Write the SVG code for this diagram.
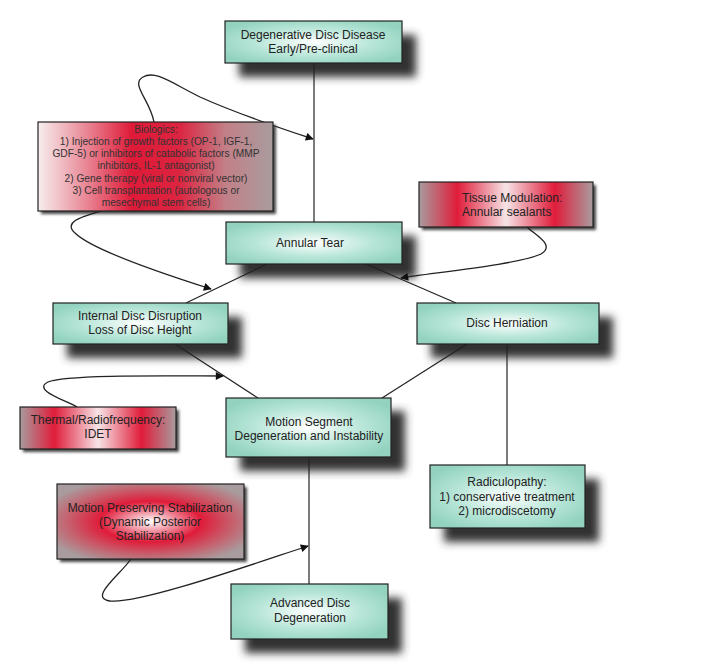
<svg xmlns="http://www.w3.org/2000/svg" width="725" height="667" viewBox="0 0 725 667">
<defs>
<style>
text{font-family:"Liberation Sans",Arial,sans-serif;fill:#222;text-anchor:middle}
.t{font-size:12px}
.s{font-size:10.2px;fill:#333}
.box{stroke:#222;stroke-width:1.2}
.teal{fill:url(#gTeal)}
.sh{fill:#333;filter:url(#blur)}
.shs{fill:#444;filter:url(#blurS)}
.ln{fill:none;stroke:#222;stroke-width:1.2}
.ar{fill:none;stroke:#222;stroke-width:1.3;marker-end:url(#arr)}
</style>
<radialGradient id="gTeal" cx="0.5" cy="0.5" r="0.6">
<stop offset="0" stop-color="#ffffff"/>
<stop offset="0.55" stop-color="#b8e6d8"/>
<stop offset="1" stop-color="#92d2bf"/>
</radialGradient>
<linearGradient id="gBio" x1="0" y1="0" x2="1" y2="0">
<stop offset="0" stop-color="#f7eeee"/>
<stop offset="0.2" stop-color="#e98a98"/>
<stop offset="0.4" stop-color="#df1a38"/>
<stop offset="0.6" stop-color="#dc2440"/>
<stop offset="0.8" stop-color="#c28088"/>
<stop offset="1" stop-color="#a89c9e"/>
</linearGradient>
<linearGradient id="gBand" x1="0" y1="0" x2="1" y2="0">
<stop offset="0" stop-color="#a89c9e"/>
<stop offset="0.22" stop-color="#e01c3a"/>
<stop offset="0.5" stop-color="#f6e4e6"/>
<stop offset="0.78" stop-color="#e01c3a"/>
<stop offset="1" stop-color="#a89c9e"/>
</linearGradient>
<radialGradient id="gRad" cx="0.5" cy="0.5" r="0.6">
<stop offset="0" stop-color="#ffffff"/>
<stop offset="0.45" stop-color="#e01c3a"/>
<stop offset="0.75" stop-color="#c46470"/>
<stop offset="1" stop-color="#a89c9e"/>
</radialGradient>
<filter id="blur" x="-20%" y="-50%" width="140%" height="200%"><feGaussianBlur stdDeviation="4"/></filter>
<filter id="blurS" x="-20%" y="-50%" width="140%" height="200%"><feGaussianBlur stdDeviation="1.5"/></filter>
<marker id="arr" viewBox="0 0 10 10" refX="9" refY="5" markerWidth="10" markerHeight="8" markerUnits="userSpaceOnUse" orient="auto">
<path d="M0,0 L10,5 L0,10 z" fill="#111"/>
</marker>
</defs>

<g id="shadows">
<rect class="sh" x="239" y="35" width="177" height="42"/>
<rect class="sh" x="240" y="236" width="176" height="42"/>
<rect class="sh" x="67" y="317" width="175" height="41"/>
<rect class="sh" x="431" y="317" width="182" height="41"/>
<rect class="sh" x="240" y="411" width="165" height="60"/>
<rect class="sh" x="444" y="479" width="155" height="63"/>
<rect class="sh" x="245" y="598" width="157" height="55"/>
<rect class="shs" x="41" y="125" width="235" height="89"/>
<rect class="shs" x="422" y="185" width="174" height="45"/>
<rect class="shs" x="23" y="410" width="156" height="42"/>
<rect class="shs" x="60" y="487" width="187" height="75"/>
</g>

<g id="connectors">
<line class="ln" x1="314" y1="63" x2="314" y2="222"/>
<line class="ln" x1="267" y1="264" x2="186" y2="303"/>
<line class="ln" x1="366" y1="264" x2="456" y2="303"/>
<line class="ln" x1="175" y1="344" x2="258" y2="398"/>
<line class="ln" x1="467" y1="344" x2="382" y2="398"/>
<line class="ln" x1="507" y1="344" x2="507" y2="465"/>
<line class="ln" x1="309" y1="457" x2="309" y2="584"/>
<path class="ar" d="M154,122 C150,100 130,84 143,77 C155,70 170,82 200,97 C240,115 280,128 313,139"/>
<path class="ar" d="M101,211 C85,216 62,221 75,233 C92,250 170,276 211,289"/>
<path class="ar" d="M527,227 C535,235 556,245 541,254 C520,264 440,272 401,278"/>
<path class="ar" d="M77,407 C65,400 32,390 48,382 C65,374 180,376 223,376"/>
<path class="ar" d="M131,559 C120,575 88,598 110,601 C140,604 250,565 308,546"/>
</g>

<g id="degenerative">
<rect class="box teal" x="225" y="21" width="177" height="42"/>
<text class="t" x="313" y="39">Degenerative Disc Disease</text>
<text class="t" x="313" y="53">Early/Pre-clinical</text>
</g>

<g id="biologics">
<rect class="box" fill="url(#gBio)" x="38" y="122" width="235" height="89"/>
<text class="s" x="156" y="133">Biologics:</text>
<text class="s" x="156" y="145">1) Injection of growth factors (OP-1, IGF-1,</text>
<text class="s" x="156" y="157">GDF-5) or inhibitors of catabolic factors (MMP</text>
<text class="s" x="156" y="169">inhibitors, IL-1 antagonist)</text>
<text class="s" x="156" y="182">2)  Gene therapy (viral or nonviral vector)</text>
<text class="s" x="156" y="194">3) Cell transplantation (autologous or</text>
<text class="s" x="156" y="206">mesechymal stem cells)</text>
</g>

<g id="tissue">
<rect class="box" fill="url(#gBand)" x="419" y="182" width="174" height="45"/>
<text class="t" x="462" y="202" style="text-anchor:start">Tissue Modulation:</text>
<text class="t" x="462" y="216" style="text-anchor:start">Annular sealants</text>
</g>

<g id="annular">
<rect class="box teal" x="226" y="222" width="176" height="42"/>
<text class="t" x="310" y="247">Annular Tear</text>
</g>

<g id="internal">
<rect class="box teal" x="53" y="303" width="175" height="41"/>
<text class="t" x="140" y="320">Internal Disc Disruption</text>
<text class="t" x="140" y="334">Loss of Disc Height</text>
</g>

<g id="herniation">
<rect class="box teal" x="417" y="303" width="182" height="41"/>
<text class="t" x="507" y="327">Disc Herniation</text>
</g>

<g id="thermal">
<rect class="box" fill="url(#gBand)" x="20" y="407" width="156" height="42"/>
<text class="t" x="98" y="424">Thermal/Radiofrequency:</text>
<text class="t" x="98" y="438">IDET</text>
</g>

<g id="motion-segment">
<rect class="box teal" x="226" y="398" width="165" height="59"/>
<text class="t" x="309" y="426">Motion Segment</text>
<text class="t" x="309" y="440">Degeneration and Instability</text>
</g>

<g id="radiculopathy">
<rect class="box teal" x="430" y="465" width="155" height="63"/>
<text class="t" x="507" y="486">Radiculopathy:</text>
<text class="t" x="507" y="501">1) conservative treatment</text>
<text class="t" x="507" y="515">2) microdiscetomy</text>
</g>

<g id="motion-preserving">
<rect class="box" fill="url(#gRad)" x="57" y="484" width="187" height="75"/>
<text class="t" x="150" y="512">Motion Preserving Stabilization</text>
<text class="t" x="150" y="526">(Dynamic Posterior</text>
<text class="t" x="150" y="540">Stabilization)</text>
</g>

<g id="advanced">
<rect class="box teal" x="231" y="584" width="157" height="55"/>
<text class="t" x="310" y="607">Advanced Disc</text>
<text class="t" x="310" y="622">Degeneration</text>
</g>
</svg>
